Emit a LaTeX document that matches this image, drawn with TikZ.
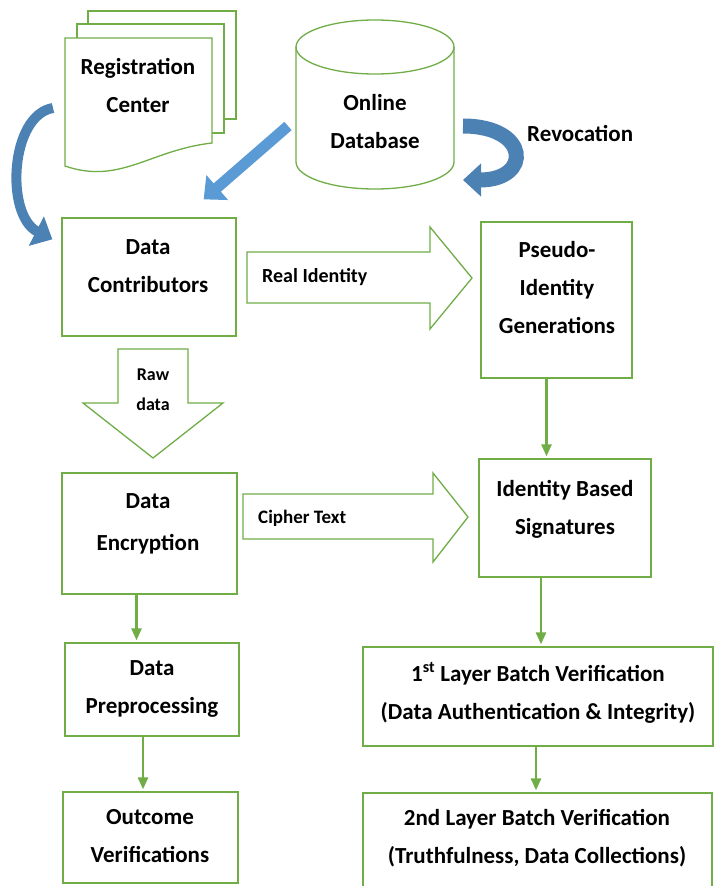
\documentclass[tikz,border=0pt]{standalone}
\usepackage{fontspec}
\setmainfont{Carlito}
\usetikzlibrary{arrows.meta, positioning, calc}
\definecolor{OfficeGreen}{RGB}{112, 173, 71}
\definecolor{OfficeBlue}{RGB}{91, 155, 213}
\definecolor{OfficeDarkBlue}{RGB}{65, 113, 156}

\begin{document}
\begin{tikzpicture}[
    x=1pt, y=1pt,
    >=LaTeX,
    % Define styles for the elements
    process box/.style={
        rectangle,
        draw=OfficeGreen,       % Green outline
        fill=white,
        line width=1.3pt,
        inner sep=0pt
    },
    box text/.style={
        align=center,
        inner sep=0pt,
        font=\bfseries\fontsize{23}{38}\selectfont
    },
    arrow text/.style={
        align=center,
        inner sep=0pt,
        font=\bfseries\fontsize{#1}{30}\selectfont
    },
    sheet/.style={
        draw=OfficeGreen,
        fill=white,
        line width=1.3pt
    },
    block arrow/.style={
        draw=OfficeGreen,
        fill=white,
        line width=1.3pt,
        line join=miter
    },
    flow line/.style={
        -{Triangle[length=12pt, width=10pt]},
        line width=2.6pt,
        draw=OfficeGreen,
        shorten >=2pt
    },
    blue arrow/.style={
        -{Triangle[length=18pt, width=32pt]},
        line width=#1,
        draw=OfficeBlue
    }
]
    \useasboundingbox (0,0) rectangle (719,-886);

    % --- Registration Center (stacked documents) ---
    \draw[sheet] (88,-11) rectangle (236,-119);
    \draw[sheet] (77,-24) rectangle (224,-133);
    \draw[sheet] (65,-38) -- (212,-38) -- (212,-143)
        .. controls (150,-150) and (120,-185) .. (65,-166) -- cycle;
    \node[box text] (reg) at (138,-85) {Registration\\Center};
    \coordinate (reg out) at (53,-108);

    % --- Online Database (cylinder) ---
    \draw[sheet] (296,-47) -- (296,-162)
        arc[start angle=180, end angle=360, x radius=79, y radius=27]
        -- (454,-47)
        arc[start angle=0, end angle=180, x radius=79, y radius=27] -- cycle;
    \draw[sheet, fill=none] (296,-47)
        arc[start angle=180, end angle=360, x radius=79, y radius=27];
    \node[box text] (db) at (375,-122) {Online\\Database};
    \coordinate (db left) at (288,-126);
    \coordinate (db right) at (463,-126);
    \coordinate (db back) at (463,-180);
    \node[box text, anchor=west] (revoc) at (527,-133) {Revocation};

    % --- Left column ---
    \node[process box, minimum width=174, minimum height=118] (contrib) at (149,-277) {};
    \node[box text] (contrib text) at (148,-266) {Data\\Contributors};

    \node[process box, minimum width=175, minimum height=121] (enc) at (149.5,-533.5) {};
    \node[box text] (enc text) at (148,-524) {Data\\[4pt]Encryption};

    \node[process box, minimum width=174, minimum height=93] (prep) at (152,-689.5) {};
    \node[box text] (prep text) at (152,-689) {Data\\Preprocessing};

    \node[process box, minimum width=175, minimum height=91] (outcome) at (150.5,-837.5) {};
    \node[box text] (outcome text) at (150,-836) {Outcome\\Verifications};

    % --- Right column ---
    \node[process box, minimum width=151, minimum height=156] (pseudo) at (556.5,-300) {};
    \node[box text] (pseudo text) at (557,-288) {Pseudo-\\Identity\\Generations};

    \node[process box, minimum width=172, minimum height=118] (ident) at (565,-518) {};
    \node[box text] (ident text) at (565,-509) {Identity Based\\Signatures};

    \node[process box, minimum width=350, minimum height=99] (layer1) at (538,-696.5) {};
    \node[box text] (layer1 text) at (538,-693)
        {1\textsuperscript{st} Layer Batch Verification\\(Data Authentication \& Integrity)};

    \node[process box, minimum width=349, minimum height=110] (layer2) at (537.5,-848) {};
    \node[box text] (layer2 text) at (537,-838)
        {2nd Layer Batch Verification\\(Truthfulness, Data Collections)};

    % --- Hollow block arrows ---
    \draw[block arrow] (247,-252) -- (430,-252) -- (430,-227) -- (472,-278)
        -- (430,-329) -- (430,-303) -- (247,-303) -- cycle;
    \node[arrow text=20, anchor=west] (real id) at (262,-277) {Real Identity};

    \draw[block arrow] (118,-349) -- (188,-349) -- (188,-403) -- (223,-403)
        -- (153,-458) -- (83,-403) -- (118,-403) -- cycle;
    \node[arrow text=18] (raw) at (153,-390) {Raw\\data};

    \draw[block arrow] (243,-494) -- (433,-494) -- (433,-473) -- (468,-517)
        -- (433,-562) -- (433,-539) -- (243,-539) -- cycle;
    \node[arrow text=19, anchor=west] (cipher) at (258,-518) {Cipher Text};

    % --- Blue arrows ---
    \draw[blue arrow=11pt] (db left) -- ($(contrib.north east)+(-33,18)$);
    \draw[blue arrow=10pt, draw=OfficeDarkBlue!60!OfficeBlue] (reg out)
        .. controls (10,-115) and (5,-215) .. ($(contrib.north west)+(-9,-22)$);
    \draw[blue arrow=15pt, draw=OfficeDarkBlue!60!OfficeBlue] (db right)
        .. controls (530,-126) and (532,-180) .. (db back);

    % --- Green connections ---
    \draw[flow line] ([xshift=-10]pseudo.south) -- ([xshift=-10]pseudo.south |- ident.north);
    \draw[flow line] ([xshift=-24]ident.south) -- ([xshift=-24]ident.south |- layer1.north);
    \draw[flow line] ([xshift=-2]layer1.south) -- ([xshift=-2]layer1.south |- layer2.north);
    \draw[flow line] ([xshift=-13]enc.south) -- ([xshift=-13]enc.south |- prep.north);
    \draw[flow line] ([xshift=-9]prep.south) -- ([xshift=-9]prep.south |- outcome.north);

\end{tikzpicture}
\end{document}
